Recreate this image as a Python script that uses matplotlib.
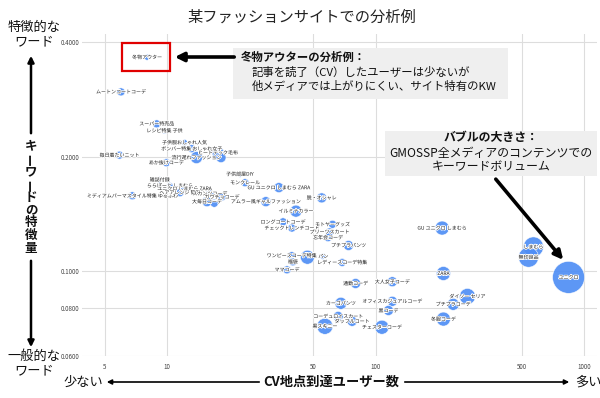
import matplotlib
matplotlib.use("Agg")
import matplotlib.pyplot as plt
import matplotlib.patheffects as pe
from matplotlib.patches import Rectangle, FancyArrowPatch
from matplotlib.ticker import FixedLocator, FixedFormatter, NullLocator

plt.rcParams['font.family'] = ['Noto Sans CJK JP', 'DejaVu Sans']

# ---- data ----
keywords = [
    "冬物アウター", "ムートンコートコーデ", "スーパー特売品", "レシピ特集 子供",
    "毎日着たいニット", "子供服おしゃれ人気", "ボンバー特集 おしゃれ女子", "ヒートテック毛布", "",
    "流行遅れファッション", "あか抜けコーデ", "子供部屋DIY", "モンクレール",
    "GU ユニクロ しまむら ZARA", "雑誌付録", "ミディアムパーマスタイル特集 ゆるふわ",
    "ららぽーと しまむら", "ユニクロ しまむら ZARA", "ヘアアレンジ 簡単", "スカンツコーデ",
    "ガウチョコーデ", "大毎日コーデ", "", "アムラー風ギャルファッション", "脱・オシャレ",
    "イルミナカラー", "ロングコートコーデ", "チェックトレンチコート", "モトヤーグッズ",
    "プリーツスカート", "忘年会コーデ", "プチプラパンツ", "ワンピースコーデ特集", "", "パン",
    "福袋", "レディースコーデ特集", "ママコーデ", "通勤コーデ", "大人女子コーデ",
    "カーゴパンツ", "オフィスカジュアルコーデ", "黒コーデ", "コーデュロイスカート",
    "ダッフルコート", "黒スキニー", "チェスターコーデ", "GU ユニクロ しまむら",
    "しまむら", "無印良品", "ユニクロ", "ZARA", "ダイソー セリア", "プチプラコーデ", "冬服コーデ",
]
cv_users = [
    8.0, 6.0, 8.9, 9.7,
    5.9, 12.1, 13.1, 17.5, 18.1,
    13.8, 9.9, 22.3, 23.6,
    34.3, 9.2, 6.8,
    10.3, 12.1, 11.5, 16.0,
    18.3, 15.5, 16.8, 29.7, 55.0,
    41.4, 35.9, 39.6, 62.0,
    60.0, 59.0, 74.0, 39.5, 47.0, 56.0,
    40.0, 69.0, 37.5, 80.0, 120.0,
    68.0, 120.0, 115.0, 66.0,
    77.0, 57.0, 107.0, 208.0,
    570.0, 540.0, 840.0, 211.0, 275.0, 235.0, 211.0,
]
feature = [
    0.365, 0.296, 0.244, 0.234,
    0.202, 0.218, 0.210, 0.205, 0.199,
    0.199, 0.193, 0.180, 0.171,
    0.166, 0.174, 0.158,
    0.168, 0.165, 0.161, 0.160,
    0.157, 0.1525, 0.151, 0.1525, 0.156,
    0.144, 0.135, 0.130, 0.133,
    0.127, 0.1227, 0.117, 0.110, 0.109, 0.1095,
    0.106, 0.1056, 0.101, 0.093, 0.094,
    0.0825, 0.0835, 0.079, 0.0762,
    0.074, 0.0718, 0.0714, 0.130,
    0.116, 0.109, 0.0965, 0.0988, 0.086, 0.082, 0.075,
]
volume = [
    900, 1600, 1600, 900,
    1600, 900, 1600, 3600, 2500,
    3600, 1600, 900, 1600,
    2500, 900, 1600,
    900, 1600, 1600, 1600,
    1600, 2500, 1600, 2500, 2500,
    3600, 1600, 1600, 1600,
    1600, 1600, 2500, 1600, 4900, 900,
    1600, 1600, 1600, 2500, 2500,
    3600, 2500, 2500, 2500,
    2500, 6400, 4900, 4900,
    10000, 10000, 25600, 4900, 6400, 3600, 4900,
]
x_ticks = [5, 10, 50, 100, 500, 1000]
x_tick_labels = ["5", "10", "50", "100", "500", "1000"]
y_ticks = [0.06, 0.08, 0.1, 0.2, 0.4]
y_tick_labels = ["0.0600", "0.0800", "0.1000", "0.2000", "0.4000"]

W, H = 600, 398
fig = plt.figure(figsize=(6.0, 3.98), dpi=100)
ax = fig.add_axes([82 / W, 1 - 356 / H, (597 - 82) / W, (356 - 34) / H])
ax.set_xscale('log')
ax.set_yscale('log')
ax.set_xlim(3.9, 1150)
ax.set_ylim(0.06, 0.42)

ax.xaxis.set_major_locator(FixedLocator(x_ticks))
ax.xaxis.set_major_formatter(FixedFormatter(x_tick_labels))
ax.xaxis.set_minor_locator(NullLocator())
ax.yaxis.set_major_locator(FixedLocator(y_ticks))
ax.yaxis.set_major_formatter(FixedFormatter(y_tick_labels))
ax.yaxis.set_minor_locator(NullLocator())
ax.tick_params(axis='both', length=0, labelsize=4.5, labelcolor='#444444')
ax.tick_params(axis='x', pad=5)
ax.tick_params(axis='y', pad=2)
for s in ax.spines.values():
    s.set_visible(False)
ax.grid(True, color='#dddddd', lw=0.8)
ax.set_axisbelow(True)

sizes = [v / 100 * 2.07 for v in volume]
ax.scatter(cv_users, feature, s=sizes, color='#4f8ef5', alpha=0.92,
           edgecolors='#ffffff', linewidths=0.4, zorder=3)
halo = [pe.withStroke(linewidth=1.2, foreground='white')]
for k, xv, yv in zip(keywords, cv_users, feature):
    if k:
        ax.text(xv, yv, k, fontsize=3.6, ha='center', va='center', color='#1a1a1a',
                path_effects=halo, zorder=4)

def fx(px):
    return px / W

def fy(py):
    return 1 - py / H

# title
fig.text(fx(302), fy(17), "某ファッションサイトでの分析例", fontsize=11, ha='center', va='center',
         color='#222222')

# left labels
fig.text(fx(34), fy(35), "特徴的な\nワード", fontsize=9.5, ha='center', va='center',
         linespacing=1.15, color='#111111')
fig.text(fx(34), fy(364), "一般的な\nワード", fontsize=9.5, ha='center', va='center',
         linespacing=1.15, color='#111111')
vchars = "キーワードの特徴量"
for i, c in enumerate(vchars):
    rot = 90 if c == "ー" else 0
    fig.text(fx(31), fy(146 + i * 12.8), c, fontsize=9, fontweight='bold', ha='center',
             va='center', rotation=rot, color='#111111')

def farrow(x0, y0, x1, y1, lw=1.8, ms=9):
    a = FancyArrowPatch((fx(x0), fy(y0)), (fx(x1), fy(y1)), transform=fig.transFigure,
                        arrowstyle='-|>', mutation_scale=ms, lw=lw, color='black')
    fig.patches.append(a)

farrow(31, 136, 31, 53)
farrow(31, 258, 31, 350)

# bottom labels
fig.text(fx(83), fy(382), "少ない", fontsize=9.5, ha='center', va='center', color='#111111')
fig.text(fx(331), fy(382), "CV地点到達ユーザー数", fontsize=9.5, fontweight='bold',
         ha='center', va='center', color='#111111')
fig.text(fx(588), fy(382), "多い", fontsize=9.5, ha='center', va='center', color='#111111')
farrow(262, 382, 104, 382, lw=1.2, ms=7)
farrow(402, 382, 572, 382, lw=1.2, ms=7)

# winter outer annotation
fig.patches.append(Rectangle((fx(122), fy(71)), (170 - 122) / W, (71 - 43) / H,
                             transform=fig.transFigure, fill=False, edgecolor='#e00000', lw=1.6))
fig.patches.append(Rectangle((fx(233), fy(99)), (508 - 233) / W, (99 - 48) / H,
                             transform=fig.transFigure, facecolor='#efefef', edgecolor='none'))
farrow(237, 57, 172, 57, lw=2.6, ms=13)
fig.text(fx(241), fy(57), "冬物アウターの分析例：", fontsize=8.2, fontweight='bold',
         ha='left', va='center', color='#111111')
fig.text(fx(252), fy(72), "記事を読了（CV）したユーザーは少ないが", fontsize=8.2,
         ha='left', va='center', color='#111111')
fig.text(fx(252), fy(86), "他メディアでは上がりにくい、サイト特有のKW", fontsize=8.2,
         ha='left', va='center', color='#111111')

# bubble size annotation
fig.patches.append(Rectangle((fx(385), fy(176)), (597 - 385) / W, (176 - 131) / H,
                             transform=fig.transFigure, facecolor='#efefef', edgecolor='none'))
fig.text(fx(491), fy(138), "バブルの大きさ：", fontsize=8.6, fontweight='bold',
         ha='center', va='center', color='#111111')
fig.text(fx(491), fy(153), "GMOSSP全メディアのコンテンツでの", fontsize=8.6,
         ha='center', va='center', color='#111111')
fig.text(fx(491), fy(167), "キーワードボリューム", fontsize=8.6,
         ha='center', va='center', color='#111111')
farrow(494, 177, 565, 262, lw=2.6, ms=13)

fig.savefig("out.png", dpi=100)
